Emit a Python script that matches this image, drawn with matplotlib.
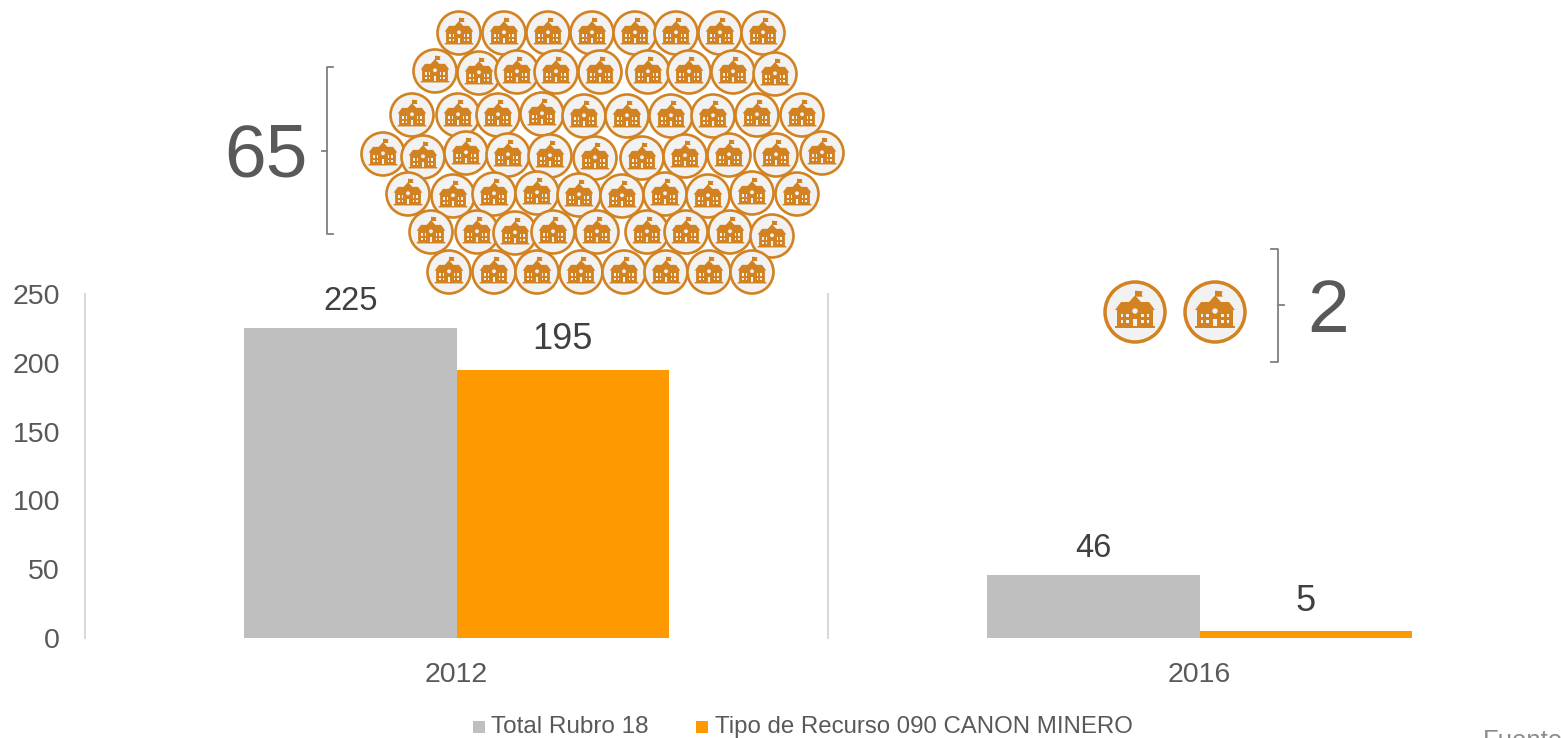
import matplotlib
matplotlib.use("Agg")
import matplotlib.pyplot as plt
from matplotlib.patches import Circle, Polygon, Rectangle
from matplotlib.lines import Line2D

plt.rcParams["font.family"] = ["Liberation Sans", "DejaVu Sans"]

years = ["2012", "2016"]
total_rubro = [225, 46]
canon_minero = [195, 5]
y_ticks = [0, 50, 100, 150, 200, 250]
series_names = ["Total Rubro 18", "Tipo de Recurso 090 CANON MINERO"]
school_counts = ["65", "2"]

GREY = "#bfbfbf"
ORANGE = "#ff9900"
ICON = "#d28220"

# iconos (x, y en pixeles), 65 en 2012 y 2 en 2016
icons_2012 = [
    (459, 33), (504, 33), (548, 33), (592, 33), (635, 33), (676, 33), (720, 33), (763, 33),
    (435, 71), (479, 73), (517, 72), (556, 72), (600, 72), (648, 72), (689, 72), (733, 72), (775, 74),
    (412, 115), (458, 115), (498, 115), (542, 114), (584, 116), (627, 116), (671, 116), (713, 116), (757, 115), (802, 115),
    (383, 154), (423, 157), (466, 153), (508, 155), (550, 156), (595, 158), (642, 158), (685, 156), (729, 155), (776, 155), (822, 153),
    (408, 194), (453, 196), (494, 194), (537, 193), (579, 195), (622, 196), (665, 194), (708, 196), (752, 193), (797, 194),
    (431, 232), (477, 232), (515, 233), (553, 232), (597, 232), (647, 232), (686, 232), (730, 232), (772, 236),
    (449, 272), (494, 272), (537, 272), (581, 272), (624, 272), (666, 272), (709, 272), (752, 272),
]
icons_2016 = [(1135, 312), (1215, 312)]


def draw_school(ax, cx, cy, r, lw):
    ax.add_patch(Circle((cx, cy), r, fc="#f2f2f2", ec=ICON, lw=lw))
    s = r / 90

    def pts(coords):
        return [(cx + a * s, cy + b * s) for a, b in coords]

    building = [(-60, -6), (-42, -30), (-18, -30), (0, -50), (18, -30), (42, -30), (60, -6),
                (54, -6), (54, 42), (60, 42), (60, 48), (-60, 48), (-60, 42), (-54, 42), (-54, -6)]
    ax.add_patch(Polygon(pts(building), fc=ICON, ec="none"))
    ax.add_patch(Rectangle((cx - 1.5 * s, cy - 62 * s), 3 * s, 14 * s, fc=ICON, ec="none"))
    ax.add_patch(Polygon(pts([(0, -64), (23, -62), (20, -54), (23, -46), (0, -46)]), fc=ICON, ec="none"))
    ax.add_patch(Circle((cx, cy - 3 * s), 8 * s, fc="#f2f2f2", ec="none"))
    ax.add_patch(Rectangle((cx - 5 * s, cy + 22 * s), 10 * s, 20 * s, fc="#f2f2f2", ec="none"))
    for wx in (-43, -27, 19, 35):
        for wy in (6, 24):
            ax.add_patch(Rectangle((cx + wx * s, cy + wy * s), 8 * s, 9 * s, fc="#f2f2f2", ec="none"))


W, H = 1562, 738
fig = plt.figure(figsize=(W / 100, H / 100), dpi=100)

# el eje sigue mas alla del borde derecho, como en el original
ax = fig.add_axes([85 / W, (H - 638) / H, (1571 - 85) / W, (638 - 294) / H])
x = list(range(len(years)))
bar_w = 0.286
b1 = ax.bar([p - bar_w / 2 for p in x], total_rubro, bar_w, color=GREY)
b2 = ax.bar([p + bar_w / 2 for p in x], canon_minero, bar_w, color=ORANGE)
ax.bar_label(b1, padding=8, fontsize=23.5, color="#404040", clip_on=False)
ax.bar_label(b2, padding=9, fontsize=26, color="#404040", clip_on=False)

ax.set_xlim(-0.5, 1.5)
ax.set_ylim(0, 250)
ax.set_yticks(y_ticks)
ax.set_xticks(x)
ax.set_xticklabels(years)
ax.tick_params(axis="both", length=0, labelsize=20.5, labelcolor="#595959")
ax.tick_params(axis="y", pad=18)
ax.tick_params(axis="x", pad=17)
for lab in ax.get_yticklabels():
    lab.set_va("center_baseline")
ax.set_xticks([-0.5, 0.5], minor=True)
ax.tick_params(axis="x", which="minor", length=0)
ax.grid(True, axis="x", which="minor", color="#d9d9d9", lw=1.5)
for tick in ax.xaxis.get_minor_ticks():
    tick.gridline.set_clip_on(False)
ax.set_axisbelow(True)
for side in ax.spines:
    ax.spines[side].set_visible(False)

# capa en pixeles para iconos, llaves y textos sueltos
over = fig.add_axes([0, 0, 1, 1], zorder=5)
over.set_xlim(0, W)
over.set_ylim(H, 0)
over.axis("off")

for cx, cy in icons_2012:
    draw_school(over, cx, cy, 21.5, 1.9)
for cx, cy in icons_2016:
    draw_school(over, cx, cy, 30, 2.5)

BR = "#7f7f7f"
over.add_line(Line2D([333, 327, 327, 333], [67, 67, 234, 234], color=BR, lw=1.3))
over.add_line(Line2D([322, 327], [151, 151], color=BR, lw=1.3))
over.add_line(Line2D([1271, 1278, 1278, 1271], [249, 249, 362, 362], color=BR, lw=1.3))
over.add_line(Line2D([1278, 1284], [305, 305], color=BR, lw=1.3))
over.text(265.5, 157, school_counts[0], fontsize=54, color="#595959", ha="center", va="center")
over.text(1328, 312, school_counts[1], fontsize=54, color="#595959", ha="center", va="center")

# leyenda
over.add_patch(Rectangle((473, 721), 12, 12, fc=GREY, ec="none"))
over.add_patch(Rectangle((696, 721), 12, 12, fc=ORANGE, ec="none"))
over.text(491, 727, series_names[0], fontsize=17.5, color="#595959", va="center")
over.text(715, 727, series_names[1], fontsize=17.3, color="#595959", va="center")
over.text(1483, 741, "Fuente", fontsize=18.5, color="#8c8c8c", va="center")

fig.savefig("out.png", dpi=100)
